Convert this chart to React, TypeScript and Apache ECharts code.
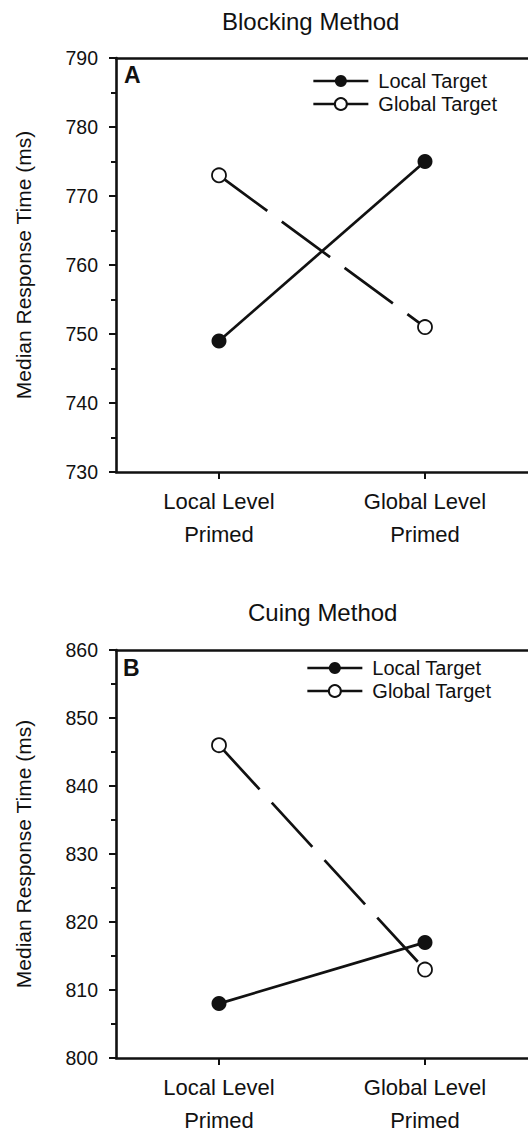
import React, { useEffect, useRef } from "react";
import * as echarts from "echarts";

const categories = ["Local Level\nPrimed", "Global Level\nPrimed"];
const seriesNames = ["Local Target", "Global Target"];

const blockingLocal = [749, 775];
const blockingGlobal = [773, 751];
const cuingLocal = [808, 817];
const cuingGlobal = [846, 813];

const blockingAxis = { min: 730, max: 790, interval: 10 };
const cuingAxis = { min: 800, max: 860, interval: 10 };

const panelTitles = ["Blocking Method", "Cuing Method"];
const panelLetters = ["A", "B"];
const yAxisName = "Median Response Time (ms)";

const FONT = "'Liberation Sans', Arial, Helvetica, sans-serif";
const INK = "#111";

export default function App() {
  const ref = useRef<HTMLDivElement>(null);

  useEffect(() => {
    if (!ref.current) return;
    const chart = echarts.init(ref.current, undefined, { renderer: "svg" });

    const grids = [
      { left: 116, top: 58, right: -2, height: 414 },
      { left: 116, top: 650, right: -2, height: 414 },
    ];

    const makeX = (gi: number) => ({
      type: "category",
      gridIndex: gi,
      data: categories,
      boundaryGap: true,
      axisLine: { show: true, lineStyle: { color: INK, width: 2.6 } },
      axisTick: { show: true, alignWithLabel: true, interval: 0, length: 7, lineStyle: { color: INK, width: 2 } },
      axisLabel: {
        interval: 0,
        margin: 13,
        fontSize: 22,
        lineHeight: 33,
        color: INK,
        fontFamily: FONT,
      },
      splitLine: { show: false },
    });

    // top frame line of each panel
    const makeTopX = (gi: number) => ({
      type: "category",
      gridIndex: gi,
      position: "top",
      data: categories,
      axisLine: { show: true, lineStyle: { color: INK, width: 2.6 } },
      axisTick: { show: false },
      axisLabel: { show: false },
      splitLine: { show: false },
    });

    const makeY = (gi: number, ax: { min: number; max: number; interval: number }) => ({
      type: "value",
      gridIndex: gi,
      min: ax.min,
      max: ax.max,
      interval: ax.interval,
      name: yAxisName,
      nameLocation: "middle",
      nameRotate: 90,
      nameGap: 82,
      nameTextStyle: { fontSize: 21, color: INK, fontFamily: FONT },
      axisLine: { show: true, lineStyle: { color: INK, width: 2.6 } },
      axisTick: { show: true, length: 7, lineStyle: { color: INK, width: 2 } },
      minorTick: { show: true, splitNumber: 2, length: 5, lineStyle: { color: INK, width: 2 } },
      axisLabel: { margin: 18, fontSize: 19.5, color: INK, fontFamily: FONT },
      splitLine: { show: false },
      minorSplitLine: { show: false },
    });

    const lineSeries = (name: string, gi: number, data: number[], dashed: boolean) => ({
      type: "line",
      name,
      xAxisIndex: gi * 2,
      yAxisIndex: gi,
      data,
      symbol: "circle",
      symbolSize: dashed ? 14 : 15,
      lineStyle: { color: INK, width: 2.7, type: dashed ? [60, 18] : "solid" },
      itemStyle: dashed
        ? { color: "#fff", borderColor: INK, borderWidth: 1.8 }
        : { color: INK, borderColor: INK, borderWidth: 0 },
      z: dashed ? 3 : 2,
    });

    const legend = (left: number, top: number) => ({
      data: seriesNames,
      orient: "vertical",
      left,
      top,
      padding: 0,
      itemWidth: 55,
      itemHeight: 15,
      itemGap: 3,
      selectedMode: false,
      lineStyle: { type: "solid", width: 2.7, color: INK },
      textStyle: { fontSize: 20, color: INK, fontFamily: FONT, padding: [0, 0, 0, 5] },
    });

    chart.setOption({
      animation: false,
      backgroundColor: "#fff",
      title: [
        { text: panelTitles[0], left: 222, top: 9, padding: 0, textStyle: { fontSize: 24, fontWeight: "normal", color: INK, fontFamily: FONT } },
        { text: panelTitles[1], left: 248, top: 600, padding: 0, textStyle: { fontSize: 24, fontWeight: "normal", color: INK, fontFamily: FONT } },
        { text: panelLetters[0], left: 124, top: 63, padding: 0, textStyle: { fontSize: 23, fontWeight: "bold", color: INK, fontFamily: FONT } },
        { text: panelLetters[1], left: 123, top: 656, padding: 0, textStyle: { fontSize: 23, fontWeight: "bold", color: INK, fontFamily: FONT } },
      ],
      legend: [legend(312, 71), legend(306, 658)],
      grid: grids,
      xAxis: [makeX(0), makeTopX(0), makeX(1), makeTopX(1)],
      yAxis: [makeY(0, blockingAxis), makeY(1, cuingAxis)],
      series: [
        lineSeries(seriesNames[0], 0, blockingLocal, false),
        lineSeries(seriesNames[1], 0, blockingGlobal, true),
        lineSeries(seriesNames[0], 1, cuingLocal, false),
        lineSeries(seriesNames[1], 1, cuingGlobal, true),
      ],
    });

    return () => chart.dispose();
  }, []);

  return (
    <div
      ref={ref}
      style={{ position: "absolute", left: 0, top: 0, width: 528, height: 1137, overflow: "hidden" }}
    />
  );
}
